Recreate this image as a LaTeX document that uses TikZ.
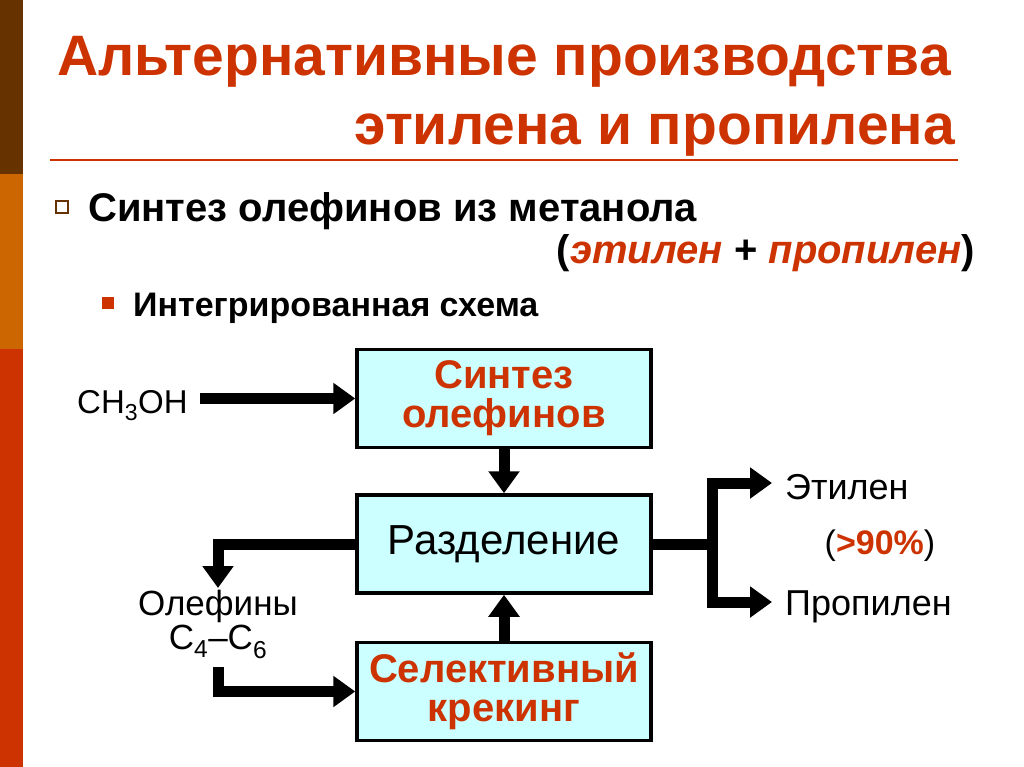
\documentclass[tikz,border=0pt]{standalone}
\usepackage{fontspec}
\setmainfont{Liberation Sans}
\usetikzlibrary{arrows.meta}
\definecolor{tred}{HTML}{CC3300}
\definecolor{tbrown}{HTML}{663300}
\definecolor{torange}{HTML}{CC6600}
\definecolor{boxfill}{HTML}{CCFFFF}
\newcommand{\fs}[1]{\fontsize{#1}{#1}\selectfont}
\tikzset{
  stepbox/.style={draw=black, line width=3.5pt, fill=boxfill, minimum width=294pt, minimum height=98pt, inner sep=0pt, align=center},
  redbox/.style={stepbox, font=\fs{40}\bfseries, text=tred},
  flow/.style={line width=11pt, line join=miter, line cap=butt},
  arr/.style={flow, -{Triangle[length=22pt,width=30pt]}},
  lbl/.style={inner sep=0pt, align=center}
}
\begin{document}
\begin{tikzpicture}[x=1pt,y=-1pt]
\useasboundingbox (0,0) rectangle (1024,767);
% left strip
\fill[tbrown] (0,0) rectangle (23,174);
\fill[torange] (0,174) rectangle (23,349);
\fill[tred] (0,349) rectangle (23,767);
% title
\node[lbl, anchor=base west, text=tred, font=\fs{57}\bfseries] (t1) at (57,76) {Альтернативные производства};
\node[lbl, anchor=base east, text=tred, font=\fs{57}\bfseries] (t2) at (955,145) {этилена и пропилена};
\draw[tred, line width=2pt] (50,160) -- (958,160);
% bullet 1
\draw[tbrown, line width=2.5pt] (56,201) rectangle (68,213);
\node[lbl, anchor=base west, font=\fs{40}\bfseries] (b1t) at (88,222) {Синтез олефинов из метанола};
\node[lbl, anchor=base east, font=\fs{40}\bfseries] (b1u) at (975,263) {(\textcolor{tred}{\itshape этилен} + \textcolor{tred}{\itshape пропилен})};
% bullet 2
\fill[tred] (102,297) rectangle (114,309);
\node[lbl, anchor=base west, font=\fs{34}\bfseries] (b2t) at (133,316) {Интегрированная схема};
% boxes
\node[redbox] (s1) at (504,398.5) {Синтез\\[-1pt]олефинов};
\node[stepbox, font=\fs{42}] (s2) at (504,544) {Разделение};
\node[redbox] (s3) at (504,691.5) {Селективный\\[-1pt]крекинг};
% labels
\node[lbl, anchor=base west, font=\fs{33}] (ch) at (77,413) {CH\textsubscript{3}OH};
\node[lbl, anchor=north, inner ysep=2pt, font=\fs{35}] (ol) at (218,588) {Олефины\\[-1pt]C\textsubscript{4}–C\textsubscript{6}};
\node[lbl, anchor=west, inner xsep=13pt, font=\fs{36}] (et) at (772,487) {Этилен};
\node[lbl, font=\fs{34}] (pct) at (880,546) {(\textcolor{tred}{\bfseries >90\%})};
\node[lbl, anchor=west, inner xsep=13pt, font=\fs{36}] (pr) at (772,607) {Пропилен};
\coordinate (sp) at (712,544);
\coordinate (olb) at (218,667);
\coordinate (etin) at (772,483);
\coordinate (prin) at (772,602);
% connectors
\draw[arr] (ch.east |- s1.west) ++(12,0) -- (s1.west);
\draw[arr] (s1.south) -- (s2.north);
\draw[arr] (s3.north) -- (s2.south);
\draw[arr] (s2.west) -| (ol.north);
\draw[arr] (olb) |- (s3.west);
\draw[flow] (s2.east) -- (sp);
\draw[arr] (sp) |- (etin);
\draw[arr] (sp) |- (prin);
\end{tikzpicture}
\end{document}
